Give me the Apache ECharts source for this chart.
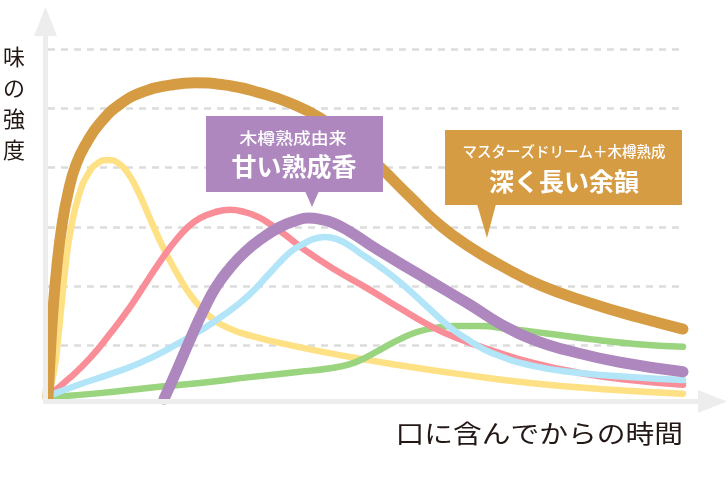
<!DOCTYPE html>
<html><head><meta charset="utf-8">
<script src="https://cdn.jsdelivr.net/npm/echarts@6/dist/echarts.min.js"></script>
<style>html,body{margin:0;padding:0;background:#fff}#c{width:728px;height:499px}</style>
</head><body><div id="c"></div>
<script>
// value levels (gridlines)
const levels = [0, 1, 2, 3, 4, 5, 6];
// time axis 0..100, intensity 0..6
const seriesNames = ['yellow', 'green', 'pink', 'blue', 'purple', 'gold'];
const yellow = [[0,0.15],[0.94,0.56],[1.57,1.10],[2.20,1.77],[2.83,2.41],[3.62,2.98],[4.87,3.54],[6.29,3.89],[7.86,4.08],[9.43,4.13],[11.01,4.08],[12.42,3.93],[13.84,3.67],[15.25,3.34],[16.82,2.95],[18.55,2.56],[20.44,2.19],[22.64,1.82],[25.16,1.52],[28.30,1.30],[32.55,1.15],[38.05,1.01],[45.91,0.84],[55.35,0.67],[64.78,0.52],[75.79,0.37],[86.79,0.27],[99.84,0.19]];
const green = [[0,0.13],[8.18,0.20],[16.04,0.29],[23.90,0.37],[31.76,0.47],[39.62,0.56],[44.34,0.62],[47.48,0.69],[50.16,0.81],[52.67,0.96],[55.35,1.11],[58.02,1.23],[60.85,1.30],[63.99,1.33],[67.92,1.33],[72.64,1.28],[78.14,1.21],[85.22,1.11],[92.30,1.03],[99.84,0.98]];
const pink = [[0,0.15],[3.46,0.46],[6.60,0.79],[9.75,1.20],[12.89,1.65],[15.72,2.11],[18.08,2.49],[20.13,2.78],[22.01,3.00],[23.90,3.15],[26.26,3.25],[28.62,3.29],[30.97,3.25],[33.02,3.17],[34.91,3.05],[37.26,2.87],[40.41,2.61],[45.13,2.28],[50.16,1.97],[55.35,1.63],[60.53,1.31],[64.78,1.11],[69.50,0.93],[76.26,0.71],[83.65,0.54],[91.51,0.42],[99.84,0.34]];
const blue = [[0,0.15],[5.03,0.35],[9.75,0.52],[14.47,0.71],[19.18,0.96],[23.90,1.25],[27.83,1.53],[31.45,1.84],[34.59,2.19],[36.48,2.41],[38.36,2.60],[40.09,2.71],[41.82,2.80],[43.55,2.83],[45.28,2.80],[47.17,2.70],[49.06,2.56],[52.20,2.33],[55.35,2.07],[59.28,1.69],[63.21,1.31],[66.35,1.08],[69.50,0.89],[76.26,0.66],[83.65,0.54],[91.51,0.47],[99.84,0.42]];
const purple = [[18.24,0.10],[20.28,0.59],[22.33,1.10],[24.37,1.58],[26.42,1.99],[28.62,2.31],[30.97,2.58],[33.65,2.81],[36.48,3.00],[38.84,3.10],[40.88,3.15],[42.77,3.13],[44.81,3.07],[47.48,2.92],[50.63,2.70],[54.56,2.44],[58.49,2.19],[62.42,1.94],[66.35,1.69],[71.07,1.37],[76.26,1.10],[82.08,0.91],[89.94,0.72],[99.84,0.56]];
const gold = [[0,0.13],[0.31,0.76],[0.79,1.60],[1.42,2.36],[2.20,3.03],[3.14,3.57],[4.40,4.05],[6.13,4.43],[8.18,4.75],[11.32,5.07],[15.25,5.29],[19.18,5.39],[23.11,5.43],[28.62,5.38],[33.33,5.26],[38.05,5.09],[42.77,4.84],[47.48,4.47],[52.20,4.01],[56.92,3.51],[61.64,3.03],[66.35,2.66],[71.07,2.36],[77.36,2.02],[85.22,1.72],[93.08,1.47],[99.84,1.28]];

const colors = {yellow:'#FFE185', green:'#9AD47E', pink:'#F98E98', blue:'#B2E5F8', purple:'#AD87BD', gold:'#D69C44'};
const widths = {yellow:6.5, green:6.5, pink:6.5, blue:6.5, purple:11, gold:11};
const dataMap = {yellow, green, pink, blue, purple, gold};

const FF = '"Noto Sans CJK JP", "Noto Sans", sans-serif';
const AX = '#EDEDED';

const chart = echarts.init(document.getElementById('c'));
chart.setOption({
  animation: false,
  backgroundColor: '#fff',
  grid: {left: 48, right: 44, top: 49, bottom: 94},
  xAxis: {type: 'value', min: 0, max: 100, show: false},
  yAxis: {
    type: 'value', min: levels[0], max: levels[levels.length - 1], interval: 1,
    axisLine: {show: false}, axisTick: {show: false}, axisLabel: {show: false},
    splitLine: {show: true, showMinLine: false, lineStyle: {color: '#DCDCDC', width: 2.5, type: [7, 6]}}
  },
  series: seriesNames.map((n, i) => ({
    type: 'line', name: n, data: dataMap[n], smooth: 0.5, symbol: 'none', z: 2 + i,
    clip: false,
    lineStyle: {color: colors[n], width: widths[n], cap: 'round', join: 'round'}
  })),
  graphic: [
    {type: 'rect', shape: {x: 43, y: 30, width: 5, height: 374}, style: {fill: AX}, z: 50},
    {type: 'polygon', shape: {points: [[45.5, 7], [34, 36], [57, 36]]}, style: {fill: AX}, z: 50},
    {type: 'rect', shape: {x: 43, y: 399, width: 660, height: 5}, style: {fill: AX}, z: 50},
    {type: 'polygon', shape: {points: [[727, 401.5], [698, 390], [698, 413]]}, style: {fill: AX}, z: 50},
    {type: 'text', x: 14, y: 41, z: 60, style: {text: '味\nの\n強\n度', font: '22px ' + FF, fill: '#231815', align: 'center', verticalAlign: 'top', lineHeight: 31}},
    {type: 'text', x: 683, y: 433, scaleX: 1.15, z: 60, style: {text: '口に含んでからの時間', font: '25px ' + FF, fill: '#231815', align: 'right', verticalAlign: 'middle'}},
    // callout 1
    {type: 'rect', shape: {x: 206, y: 116, width: 177, height: 76}, style: {fill: colors.purple}, z: 70},
    {type: 'polygon', shape: {points: [[305, 191], [319, 191], [312, 207]]}, style: {fill: colors.purple}, z: 70},
    {type: 'text', x: 293, y: 138, scaleX: 1.15, z: 71, style: {text: '木樽熟成由来', font: '500 15.5px ' + FF, fill: '#fff', align: 'center', verticalAlign: 'middle'}},
    {type: 'text', x: 294, y: 166, z: 71, style: {text: '甘い熟成香', font: 'bold 25px ' + FF, fill: '#fff', align: 'center', verticalAlign: 'middle'}},
    // callout 2
    {type: 'rect', shape: {x: 445, y: 130, width: 237, height: 75}, style: {fill: colors.gold}, z: 70},
    {type: 'polygon', shape: {points: [[477, 204], [496, 204], [487, 238]]}, style: {fill: colors.gold}, z: 70},
    {type: 'text', x: 564, y: 151, z: 71, style: {text: 'マスターズドリーム＋木樽熟成', font: '500 14.5px ' + FF, fill: '#fff', align: 'center', verticalAlign: 'middle'}},
    {type: 'text', x: 564, y: 181, z: 71, style: {text: '深く長い余韻', font: 'bold 25px ' + FF, fill: '#fff', align: 'center', verticalAlign: 'middle'}}
  ]
});
</script></body></html>
